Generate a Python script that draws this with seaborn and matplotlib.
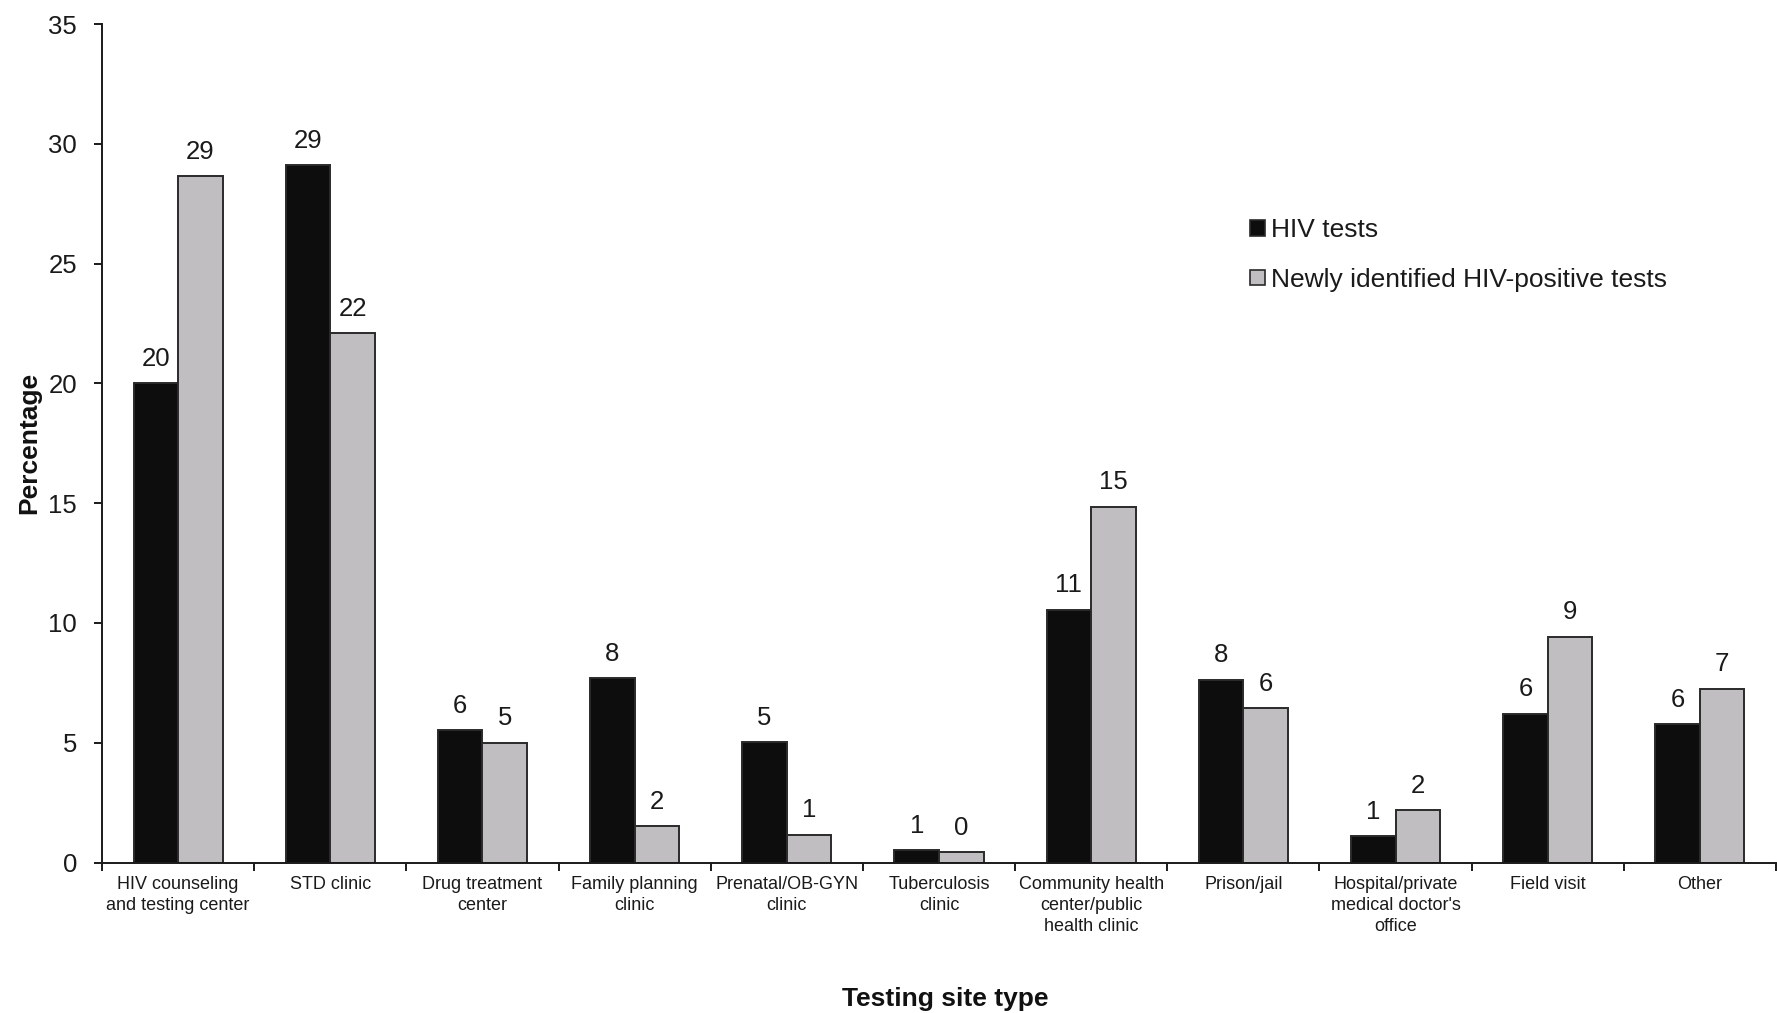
import matplotlib
matplotlib.use("Agg")
import matplotlib.pyplot as plt
import matplotlib.patches as mpatches
import seaborn as sns
import pandas as pd

# Testing site categories (two-line labels where the name wraps)
sites = [
    "HIV counseling\nand testing center",
    "STD clinic",
    "Drug treatment\ncenter",
    "Family planning\nclinic",
    "Prenatal/OB-GYN\nclinic",
    "Tuberculosis\nclinic",
    "Community health\ncenter/public\nhealth clinic",
    "Prison/jail",
    "Hospital/private\nmedical doctor's\noffice",
    "Field visit",
    "Other",
]

# Percentage of all HIV tests by site type
hiv_tests = [20.0, 29.1, 5.52, 7.7, 5.02, 0.52, 10.55, 7.62, 1.1, 6.2, 5.77]
# Percentage of newly identified HIV-positive tests by site type
new_positive = [28.65, 22.1, 5.0, 1.52, 1.16, 0.43, 14.85, 6.43, 2.18, 9.42, 7.25]

series_names = ["HIV tests", "Newly identified HIV-positive tests"]
bar_colors = ["#0d0d0d", "#c1bec2"]
y_ticks = [0, 5, 10, 15, 20, 25, 30, 35]

df = pd.DataFrame({
    "site": sites * 2,
    "pct": hiv_tests + new_positive,
    "series": [series_names[0]] * len(sites) + [series_names[1]] * len(sites),
})

sns.set_theme(style="white")
plt.rcParams["font.family"] = ["Liberation Sans", "DejaVu Sans"]

W, H = 1777, 1013
fig = plt.figure(figsize=(W / 100, H / 100), dpi=100)
ax = fig.add_axes([102 / W, 1 - 862.5 / H, (1776 - 102) / W, (862.5 - 24) / H])

sns.barplot(
    data=df, x="site", y="pct", hue="series", order=sites,
    hue_order=series_names, palette=bar_colors, width=0.585, gap=0,
    edgecolor="#2a2a2a", linewidth=1.4, saturation=1, ax=ax, legend=False,
)

# Rounded value above each bar
for cont in ax.containers:
    vals = cont.datavalues
    ax.bar_label(cont, labels=[f"{v:.0f}" for v in vals], padding=9,
                 fontsize=18.5, color="#1a1a1a")

ax.set_xlim(-0.5, len(sites) - 0.5)
ax.set_ylim(0, 35)
ax.set_yticks(y_ticks)
ax.tick_params(axis="y", which="major", direction="out", length=6, width=1.4,
               color="#1a1a1a", labelsize=18.5, labelcolor="#1a1a1a", pad=12,
               left=True)

# Category separators as major ticks, names centred as minor ticks
ax.set_xticks([i - 0.5 for i in range(len(sites) + 1)])
ax.set_xticklabels([])
ax.set_xticks(range(len(sites)), minor=True)
ax.set_xticklabels(sites, minor=True, fontsize=13, color="#1a1a1a",
                   linespacing=1.3)
ax.tick_params(axis="x", which="major", direction="out", length=6, width=1.4,
               color="#1a1a1a", bottom=True)
ax.tick_params(axis="x", which="minor", length=0, pad=10)

for side in ("top", "right"):
    ax.spines[side].set_visible(False)
for side in ("left", "bottom"):
    ax.spines[side].set_color("#1a1a1a")
    ax.spines[side].set_linewidth(1.4)

ax.set_ylabel("Percentage", fontsize=19, fontweight="bold", color="#111111")
ax.yaxis.set_label_coords((41 - 102) / 1674, 0.5)
ax.set_xlabel("Testing site type", fontsize=19, fontweight="bold",
              color="#111111", va="center")
ax.xaxis.set_label_coords((945 - 102) / 1674, (862.5 - 999) / 838.5)

handles = [mpatches.Patch(facecolor=c, edgecolor="#2a2a2a", linewidth=1.2)
           for c in bar_colors]
ax.legend(handles, series_names, loc="upper left",
          bbox_to_anchor=(1250 / W, 1 - 218 / H), bbox_transform=fig.transFigure,
          frameon=False, fontsize=19, handlelength=0.55, handleheight=0.55,
          handletextpad=0.25, labelspacing=0.98, borderpad=0, borderaxespad=0,
          labelcolor="#1a1a1a")

fig.savefig("out.png", dpi=100, facecolor="white")
